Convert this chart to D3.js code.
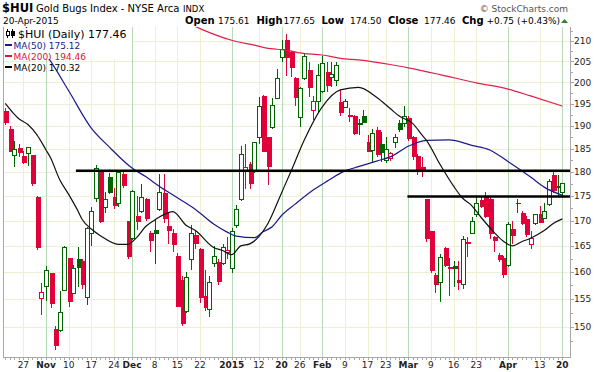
<!DOCTYPE html>
<html><head><meta charset="utf-8">
<script src="https://cdn.jsdelivr.net/npm/d3@7/dist/d3.min.js"></script>
<style>
html,body{margin:0;padding:0;background:#fff;}
svg{display:block;font-family:"DejaVu Sans",Verdana,sans-serif;}
</style></head><body>
<svg id="chart" width="596" height="372"></svg>
<script>
// ---------- DATA ----------
const dates = ["2014-10-21","2014-10-22","2014-10-23","2014-10-24","2014-10-27","2014-10-28","2014-10-29","2014-10-30","2014-10-31",
"2014-11-03","2014-11-04","2014-11-05","2014-11-06","2014-11-07","2014-11-10","2014-11-11","2014-11-12","2014-11-13","2014-11-14","2014-11-17","2014-11-18","2014-11-19","2014-11-20","2014-11-21","2014-11-24","2014-11-25","2014-11-26","2014-11-28",
"2014-12-01","2014-12-02","2014-12-03","2014-12-04","2014-12-05","2014-12-08","2014-12-09","2014-12-10","2014-12-11","2014-12-12","2014-12-15","2014-12-16","2014-12-17","2014-12-18","2014-12-19","2014-12-22","2014-12-23","2014-12-24","2014-12-26","2014-12-29","2014-12-30","2014-12-31",
"2015-01-02","2015-01-05","2015-01-06","2015-01-07","2015-01-08","2015-01-09","2015-01-12","2015-01-13","2015-01-14","2015-01-15","2015-01-16","2015-01-20","2015-01-21","2015-01-22","2015-01-23","2015-01-26","2015-01-27","2015-01-28","2015-01-29","2015-01-30",
"2015-02-02","2015-02-03","2015-02-04","2015-02-05","2015-02-06","2015-02-09","2015-02-10","2015-02-11","2015-02-12","2015-02-13","2015-02-17","2015-02-18","2015-02-19","2015-02-20","2015-02-23","2015-02-24","2015-02-25","2015-02-26","2015-02-27",
"2015-03-02","2015-03-03","2015-03-04","2015-03-05","2015-03-06","2015-03-09","2015-03-10","2015-03-11","2015-03-12","2015-03-13","2015-03-16","2015-03-17","2015-03-18","2015-03-19","2015-03-20","2015-03-23","2015-03-24","2015-03-25","2015-03-26","2015-03-27","2015-03-30","2015-03-31",
"2015-04-01","2015-04-02","2015-04-06","2015-04-07","2015-04-08","2015-04-09","2015-04-10","2015-04-13","2015-04-14","2015-04-15","2015-04-16","2015-04-17","2015-04-20"];

const open = [193.3,189.2,183.5,185.0,183.3,184.0,183.5,174.7,155.1,
157.3,159.7,149.5,149.3,156.6,162.5,156.0,162.4,162.0,155.3,167.5,174.5,180.3,172.7,178.8,174.7,173.4,179.5,169.9,
166.4,170.9,171.8,174.3,167.4,168.0,172.3,175.4,168.9,167.5,162.9,158.4,152.8,162.3,167.0,164.4,155.4,153.2,161.6,161.8,161.6,163.8,
160.6,169.1,174.2,180.0,181.5,180.0,187.4,196.6,187.4,189.6,196.2,205.9,210.0,207.1,200.8,191.9,200.8,202.7,193.5,195.6,
197.8,202.3,201.0,200.4,195.4,194.2,192.4,192.2,190.6,192.0,186.3,184.6,189.0,185.8,182.5,182.8,186.4,190.5,190.5,
191.7,187.4,183.2,181.0,174.2,167.9,159.3,158.0,164.5,160.8,161.1,158.4,157.7,165.6,167.5,171.2,174.0,174.6,174.3,166.6,163.2,162.6,
161.2,168.3,173.5,171.4,170.2,165.3,169.4,171.2,170.5,173.3,179.3,177.0,175.61];

const high = [194.0,190.0,186.6,186.0,184.4,185.4,183.7,174.9,158.0,
161.1,159.9,150.2,156.5,165.0,162.6,161.4,164.7,162.4,168.7,172.7,181.4,180.5,175.7,179.7,176.6,180.3,180.0,170.0,
176.2,175.0,177.4,174.6,167.9,170.4,179.6,179.5,171.8,168.3,163.7,159.2,160.0,169.2,167.9,164.6,160.4,159.3,165.0,162.4,165.3,166.8,
168.5,173.1,185.6,186.0,182.0,186.5,196.6,197.0,187.6,196.3,203.1,210.2,211.7,207.5,201.2,198.8,207.0,204.8,196.9,204.4,
206.2,204.8,204.8,204.8,198.2,196.2,194.1,192.4,191.6,193.6,187.9,189.2,189.8,188.6,187.5,184.2,188.3,191.3,194.6,
192.2,187.7,183.9,183.2,174.3,168.0,159.8,163.4,164.7,162.7,162.1,162.1,166.9,166.8,170.7,174.9,174.8,175.7,175.0,166.9,163.6,163.0,
169.8,170.0,174.3,172.0,171.0,168.0,171.4,173.0,173.5,178.5,180.0,179.3,177.65];

const low = [190.1,184.2,181.0,183.2,181.7,181.2,177.1,164.2,152.1,
154.6,153.4,146.0,149.2,156.4,153.6,155.9,157.3,156.9,154.0,165.0,173.8,169.6,171.5,175.3,172.3,172.8,176.7,162.4,
166.2,168.2,171.5,170.0,163.8,161.6,172.0,169.5,165.3,163.8,153.5,150.2,152.5,160.4,164.4,154.3,152.8,151.7,160.9,157.5,161.4,162.4,
159.9,168.6,173.9,176.5,176.4,179.8,186.0,184.3,177.3,189.2,196.0,204.8,201.4,201.2,194.6,189.8,200.5,196.6,191.4,193.2,
197.5,197.8,198.8,199.2,192.2,194.0,190.9,187.9,188.0,190.6,184.2,182.1,183.2,182.1,181.8,182.4,185.2,188.6,189.8,
186.7,182.6,179.3,178.9,165.7,159.8,156.2,154.5,161.0,155.6,157.2,156.7,156.8,162.9,167.3,170.7,172.5,170.5,166.3,163.8,162.0,158.8,
161.0,165.3,171.5,169.1,166.8,164.4,169.2,169.5,170.2,173.0,175.5,174.8,174.50];

const close = [190.7,184.4,184.9,184.2,181.9,185.15,177.6,164.6,156.2,
160.3,154.2,146.7,152.5,164.7,154.5,160.6,160.8,157.7,168.5,171.8,180.8,169.9,174.2,175.6,173.1,179.8,177.1,162.9,
175.8,169.9,174.7,170.4,166.1,167.5,175.7,170.4,168.1,165.3,153.7,150.7,158.9,167.4,165.4,155.3,153.4,158.0,162.9,158.3,164.7,164.2,
167.9,172.3,183.7,181.0,177.6,186.3,194.4,184.4,181.2,194.7,200.8,207.9,206.0,203.6,196.5,198.5,206.2,198.7,195.6,201.7,
204.4,199.2,201.9,204.0,192.9,195.5,192.2,188.4,190.2,190.8,184.4,188.3,183.8,184.2,184.9,184.0,187.4,189.3,192.0,
187.2,183.2,180.3,180.2,166.4,160.3,157.7,162.7,161.2,160.6,160.7,158.1,166.3,165.4,169.8,173.4,172.9,170.8,167.5,166.1,162.4,159.6,
169.2,167.0,173.4,169.5,167.3,166.4,171.2,169.7,171.8,177.9,176.2,176.71,177.46];

const prevCloseBefore = 194.5;

// moving averages: [day index, value]
const ma20 = [[0,195.1],[3,191.6],[5,190.3],[7,188.0],[9,184.7],[10,183.0],[12,178.4],[14,175.3],[16,172.0],[17,170.2],[19,168.3],[21,167.0],[25,165.3],[27,165.3],[29,166.6],[31,168.8],[33,170.1],[37,171.8],[40,169.0],[42,168.0],[46,164.7],[48,164.1],[50,163.3],[52,165.0],[54,165.4],[56,166.8],[58,169.4],[61,175.6],[63,179.9],[66,186.8],[70,194.3],[74,198.2],[78,198.8],[82,196.5],[85,193.9],[87,192.2],[90,190.5],[92,188.0],[93,186.8],[96,181.6],[99,177.0],[101,174.5],[103,173.0],[105,170.7],[108,167.6],[110,165.9],[112,165.0],[114,165.8],[116,166.5],[119,168.0],[121,169.4],[123,170.32]];
const ma50 = [[0,222],[4,214.5],[7,209.5],[10,205.0],[14,198.0],[19,189.5],[23,185.3],[28,180.8],[31,179.0],[34,177.0],[38,174.6],[42,172.2],[46,169.3],[49,167.7],[51,166.9],[55,166.6],[57,167.8],[59,168.8],[61,171.0],[64,173.3],[68,176.2],[71,178.0],[75,180.2],[78,181.1],[82,182.3],[85,183.2],[89,185.5],[93,186.8],[98,186.9],[103,185.7],[107,184.7],[111,182.2],[116,178.9],[119,176.8],[123,175.12]];
const ma200 = [[36,216.3],[42,213.5],[43,213.0],[50,210.1],[55,208.9],[58,208.1],[60,207.9],[63,207.5],[65,207.0],[70,206.5],[74,205.7],[78,205.3],[85,204.2],[89,203.4],[96,201.8],[104,199.85],[111,198.4],[116,196.8],[123,194.46]];

// horizontal reference lines
const levelValues = [180.25, 174.85];
const levelStartIdx = [15.6, 88.8];

const yTicks = [150,155,160,165,170,175,180,185,190,195,200,205,210];
const tickDates = ["2014-10-27","2014-11-03","2014-11-10","2014-11-17","2014-11-24","2014-12-01","2014-12-08","2014-12-15","2014-12-22","2015-01-02","2015-01-12","2015-01-20","2015-01-26","2015-02-02","2015-02-09","2015-02-17","2015-02-23","2015-03-02","2015-03-09","2015-03-16","2015-03-23","2015-04-01","2015-04-13","2015-04-20"];
const tickLabels = ["27","Nov","10","17","24","Dec","8","15","22","2015","12","20","26","Feb","9","17","23","Mar","9","16","23","Apr","13","20"];
const tickIsMonth = tickLabels.map(t => /^[A-Z]|^20/.test(t));

const legendRows = [
  {label:"MA(50) 175.12", color:"#1a1a8c"},
  {label:"MA(200) 194.46", color:"#e0103c"},
  {label:"MA(20) 170.32", color:"#000000"}
];

// ---------- DRAW ----------
const svg = d3.select("#chart");
const L=3, R=570, T=27, B=357;
const x = d3.scaleLinear().domain([-0.5,124.7]).range([L,R]);
const y = d3.scaleLog().domain([150,210]).range([327,40.7]);
const RED="#e0003a", GREEN="#006400";

svg.append("defs").append("clipPath").attr("id","clip")
  .append("rect").attr("x",L).attr("y",T).attr("width",R-L).attr("height",B-T);

// grid
const grid = svg.append("g");
grid.selectAll("line.h").data(yTicks).join("line").attr("class","h")
  .attr("x1",L).attr("x2",R)
  .attr("y1",d=>Math.round(y(d))+0.5).attr("y2",d=>Math.round(y(d))+0.5)
  .attr("stroke","#eeeed4").attr("stroke-width",1);
const tickIdx = tickDates.map(d=>dates.indexOf(d));
grid.selectAll("line.v").data(tickIdx).join("line").attr("class","v")
  .attr("x1",d=>Math.round(x(d))+0.5).attr("x2",d=>Math.round(x(d))+0.5)
  .attr("y1",T).attr("y2",B)
  .attr("stroke",(d,i)=>tickIsMonth[i] ? "#b6d9b6" : "#efefd2").attr("stroke-width",1);

// candles
const candles = dates.map((d,i)=>({i, o:open[i], h:high[i], l:low[i], c:close[i],
  pc: i===0 ? prevCloseBefore : close[i-1]}));
const cg = svg.append("g").attr("clip-path","url(#clip)").attr("shape-rendering","crispEdges");
const cand = cg.selectAll("g.c").data(candles).join("g").attr("class","c");
cand.each(function(d){
  const gsel = d3.select(this);
  const col = d.c >= d.pc ? GREEN : RED;
  const hollow = d.c > d.o;
  const cx = Math.round(x(d.i));
  gsel.append("line").attr("x1",cx+0.5).attr("x2",cx+0.5)
    .attr("y1",y(d.h)).attr("y2",y(d.l)).attr("stroke",col).attr("stroke-width",1);
  const top = y(Math.max(d.o,d.c)), bot = y(Math.min(d.o,d.c));
  if (hollow) {
    gsel.append("rect").attr("x",cx-1.5).attr("y",top).attr("width",4)
      .attr("height",Math.max(1,bot-top)).attr("fill","#fff").attr("stroke",col).attr("stroke-width",1);
  } else {
    gsel.append("rect").attr("x",cx-1.5).attr("y",top-0.5).attr("width",5)
      .attr("height",Math.max(1.5,bot-top+1)).attr("fill",col);
  }
});

// moving averages
const lineGen = d3.line().x(d=>x(d[0])).y(d=>y(d[1])).curve(d3.curveMonotoneX);
const mg = svg.append("g").attr("clip-path","url(#clip)").attr("fill","none");
mg.append("path").attr("d",lineGen(ma200)).attr("stroke","#e0204a").attr("stroke-width",1.2);
mg.append("path").attr("d",lineGen(ma50)).attr("stroke","#1a1a8c").attr("stroke-width",1.2);
mg.append("path").attr("d",lineGen(ma20)).attr("stroke","#111").attr("stroke-width",1.2);

// horizontal level lines
mg.selectAll("line.lv").data(levelValues).join("line").attr("class","lv")
  .attr("x1",(d,i)=>x(levelStartIdx[i])).attr("x2",R)
  .attr("y1",d=>y(d)).attr("y2",d=>y(d))
  .attr("stroke","#000").attr("stroke-width",2.6);

// axes frame
const ax = svg.append("g").attr("stroke","#a8a8a8").attr("shape-rendering","crispEdges");
ax.append("line").attr("x1",L+0.5).attr("x2",L+0.5).attr("y1",T).attr("y2",B+0.5);
ax.append("line").attr("x1",L).attr("x2",R+0.5).attr("y1",B+0.5).attr("y2",B+0.5);
ax.append("line").attr("x1",R+0.5).attr("x2",R+0.5).attr("y1",T).attr("y2",B+0.5);
// day ticks on bottom
ax.selectAll("line.dt").data(dates.map((d,i)=>i)).join("line").attr("class","dt")
  .attr("x1",d=>Math.round(x(d))+0.5).attr("x2",d=>Math.round(x(d))+0.5)
  .attr("y1",B+1).attr("y2",B+3);
// right axis ticks
const minorTicks = d3.range(147.5,213,2.5);
ax.selectAll("line.yt").data(minorTicks).join("line").attr("class","yt")
  .attr("x1",R+1).attr("x2",d=> (d%5===0)? R+4 : R+3)
  .attr("y1",d=>Math.round(y(d))+0.5).attr("y2",d=>Math.round(y(d))+0.5);

// y labels
svg.append("g").selectAll("text").data(yTicks).join("text")
  .attr("x",574).attr("y",d=>y(d)+3.4)
  .attr("font-size",9).attr("fill","#222").text(d=>d);

// x labels
svg.append("g").selectAll("text").data(tickIdx).join("text")
  .attr("x",d=>x(d)).attr("y",368).attr("text-anchor","middle")
  .attr("font-size",9).attr("font-weight",(d,i)=>tickIsMonth[i]?"bold":"normal")
  .attr("fill","#222").text((d,i)=>tickLabels[i]);

// legend
const lg = svg.append("g");
lg.append("rect").attr("x",4).attr("y",28).attr("width",128).attr("height",31).attr("fill","#fff");
// small candle icon
const ic = lg.append("g").attr("shape-rendering","crispEdges");
ic.append("line").attr("x1",7.5).attr("x2",7.5).attr("y1",29).attr("y2",38).attr("stroke","#000");
ic.append("rect").attr("x",6).attr("y",31).attr("width",3).attr("height",4).attr("fill","#fff").attr("stroke","#000");
ic.append("line").attr("x1",12.5).attr("x2",12.5).attr("y1",29).attr("y2",38).attr("stroke","#000");
ic.append("rect").attr("x",11).attr("y",31).attr("width",4).attr("height",5).attr("fill","#000");
lg.append("text").attr("x",18).attr("y",37.5).attr("font-size",11).attr("fill","#000").text("$HUI (Daily) 177.46");
legendRows.forEach((r,i)=>{
  const by = 48.5 + i*11;
  lg.append("line").attr("x1",5).attr("x2",12).attr("y1",by-3.5).attr("y2",by-3.5)
    .attr("stroke",r.color).attr("stroke-width",2);
  lg.append("text").attr("x",13.5).attr("y",by).attr("font-size",9).attr("fill",r.color).text(r.label);
});

// header
const hd = svg.append("g").attr("fill","#000");
hd.append("text").attr("x",2).attr("y",12).attr("font-size",11.5).attr("font-weight","bold").text("$HUI");
hd.append("text").attr("x",36).attr("y",12).attr("font-size",10).text("Gold Bugs Index - NYSE Arca");
hd.append("text").attr("x",183).attr("y",12).attr("font-size",8.5).text("INDX");
hd.append("text").attr("x",568).attr("y",11.5).attr("font-size",9).attr("text-anchor","end").attr("fill","#555").text("\u00A9 StockCharts.com");
hd.append("text").attr("x",3).attr("y",24).attr("font-size",9).text("20-Apr-2015");
const hdrParts = [
  ["Open",true,185],["175.61",false,218],["High",true,256.5],["177.65",false,283.5],
  ["Low",true,321.5],["174.50",false,350],["Close",true,388],["177.46",false,424],
  ["Chg",true,462],["+0.75 (+0.43%)",false,486.5]
];
hd.selectAll("text.hp").data(hdrParts).join("text").attr("class","hp")
  .attr("x",d=>d[2]).attr("y",24)
  .attr("font-size",d=>d[1]?10:9).attr("font-weight",d=>d[1]?"bold":"normal").text(d=>d[0]);
hd.append("path").attr("d","M561,23 L568,23 L564.5,19 Z").attr("fill","#2a8a2a");
</script>
</body></html>
